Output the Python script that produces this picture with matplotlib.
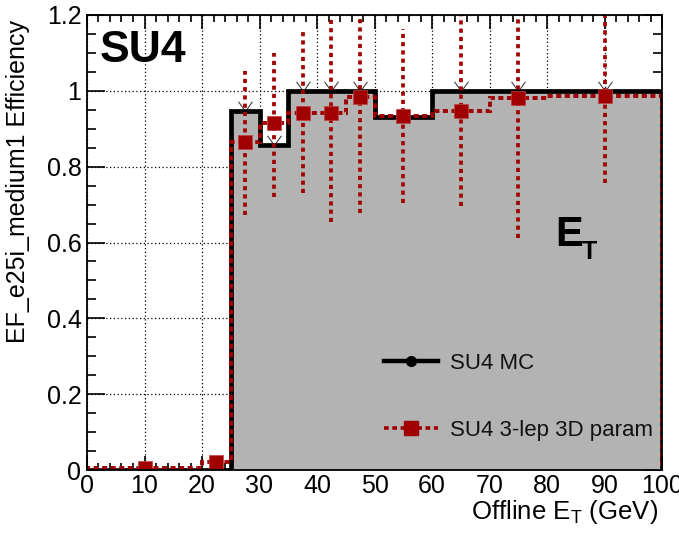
import matplotlib
matplotlib.use("Agg")
import matplotlib.pyplot as plt
import numpy as np
from matplotlib.ticker import MultipleLocator, FuncFormatter
from matplotlib.lines import Line2D
from matplotlib.path import Path

plt.rcParams['font.family'] = ['Liberation Sans', 'DejaVu Sans']

# ---- data ----
bin_edges = [0, 20, 25, 30, 35, 40, 45, 50, 60, 70, 80, 100]
mc_eff = [0.0, 0.0, 0.947, 0.857, 1.0, 1.0, 1.0, 0.93, 1.0, 1.0, 1.0]
param_eff = [0.005, 0.022, 0.866, 0.915, 0.941, 0.942, 0.985, 0.934, 0.948, 0.982, 0.987]
param_err_low = [0.005, 0.022, 0.673, 0.721, 0.730, 0.653, 0.677, 0.704, 0.695, 0.612, 0.758]
param_err_high = [0.005, 0.022, 1.051, 1.100, 1.157, 1.25, 1.25, 1.163, 1.25, 1.25, 1.25]
mc_arrow_x = [27.5, 32.5, 37.5, 42.5, 47.5, 65, 75, 90]
mc_arrow_y = [0.947, 0.857, 1.0, 1.0, 1.0, 1.0, 1.0, 1.0]
x_ticks = [0, 10, 20, 30, 40, 50, 60, 70, 80, 90, 100]
y_ticks = [0, 0.2, 0.4, 0.6, 0.8, 1.0, 1.2]

red = '#a00000'
gray = '#b3b3b3'

W, H = 679, 533
fig = plt.figure(figsize=(W/100, H/100), dpi=100)
ax = fig.add_axes([87/W, (H-470)/H, 575/W, 455/H])

edges = np.array(bin_edges)
centers = 0.5*(edges[:-1] + edges[1:])
pe = np.array(param_eff)

ax.stairs(mc_eff, edges, fill=True, color=gray, zorder=1)
ax.stairs(mc_eff, edges, color='black', linewidth=3.4, zorder=2)

# MC error bar arrow tips
chev = Path([(-1, 1.4), (-0.25, 0.35), (1, 1.4), (0.25, 0.35)],
            [Path.MOVETO, Path.LINETO, Path.MOVETO, Path.LINETO])
ax.plot(mc_arrow_x, mc_arrow_y, linestyle='none', marker=chev, markersize=14,
        markeredgecolor='#404040', markerfacecolor='none', markeredgewidth=0.8, zorder=3)

# param histogram (hatched-looking dashed line)
ax.stairs(param_eff, edges, color=red, linewidth=2.8, linestyle=(0, (1.3, 0.9)), zorder=4)

# error bars (dotted)
for xc, lo, hi in zip(centers, param_err_low, param_err_high):
    if hi - lo > 0.05:
        ax.plot([xc, xc], [lo, hi], color=red, linewidth=2.7,
                linestyle=(0, (1.1, 1.1)), zorder=5, solid_capstyle='butt')
ax.plot(centers, pe, linestyle='none', marker='s', markersize=10,
        color=red, markeredgecolor='#c04040', markeredgewidth=0.5, zorder=6)

ax.set_xlim(0, 100)
ax.set_ylim(0, 1.2)
ax.set_xticks(x_ticks)
ax.set_yticks(y_ticks)
ax.xaxis.set_minor_locator(MultipleLocator(2))
ax.yaxis.set_minor_locator(MultipleLocator(0.05))
ax.yaxis.set_major_formatter(FuncFormatter(lambda v, p: '%g' % round(v, 2)))
ax.tick_params(which='both', direction='in', top=True, right=True, labelsize=18, width=1.2, color='black')
ax.tick_params(axis='y', which='major', length=13, pad=4)
ax.tick_params(axis='y', which='minor', length=6.5)
ax.tick_params(axis='x', which='major', length=10, pad=3)
ax.tick_params(axis='x', which='minor', length=5)
ax.grid(True, which='major', linestyle=(0, (1, 2)), color='black', linewidth=0.9, zorder=0.5)
ax.set_axisbelow(True)
for s in ax.spines.values():
    s.set_linewidth(1.3)
    s.set_zorder(7)

# legend
h1 = Line2D([], [], color='black', linewidth=3.2, marker='o', markersize=7)
h2 = Line2D([], [], color=red, linewidth=2.6, linestyle=(0, (1.3, 1.0)), marker='s', markersize=10)
leg = ax.legend([h1, h2], ['SU4 MC', 'SU4 3-lep 3D param'], frameon=False, fontsize=16,
                loc='upper left', bbox_to_anchor=((384-87)/575, (470-353)/455),
                handlelength=2.45, handletextpad=0.5, labelspacing=2.05,
                borderpad=0, borderaxespad=0)
for t in leg.get_texts():
    t.set_color('#111111')

# texts
fig.text(100/W, 1-62/H, 'SU4', fontsize=32, fontweight='bold', va='baseline', ha='left')
fig.text(555/W, 1-246/H, 'E', fontsize=30, fontweight='bold', va='baseline', ha='left')
fig.text(582/W, 1-259/H, 'T', fontsize=18, fontweight='bold', va='baseline', ha='left')
fig.text(658/W, 1-519/H, 'Offline E$_\\mathregular{T}$ (GeV)', fontsize=18.5, ha='right', va='baseline')
fig.text(18/W, 1-20/H, 'EF_e25i_medium1 Efficiency', fontsize=18, rotation=90, ha='center', va='top')

fig.savefig('out.png', dpi=100)
